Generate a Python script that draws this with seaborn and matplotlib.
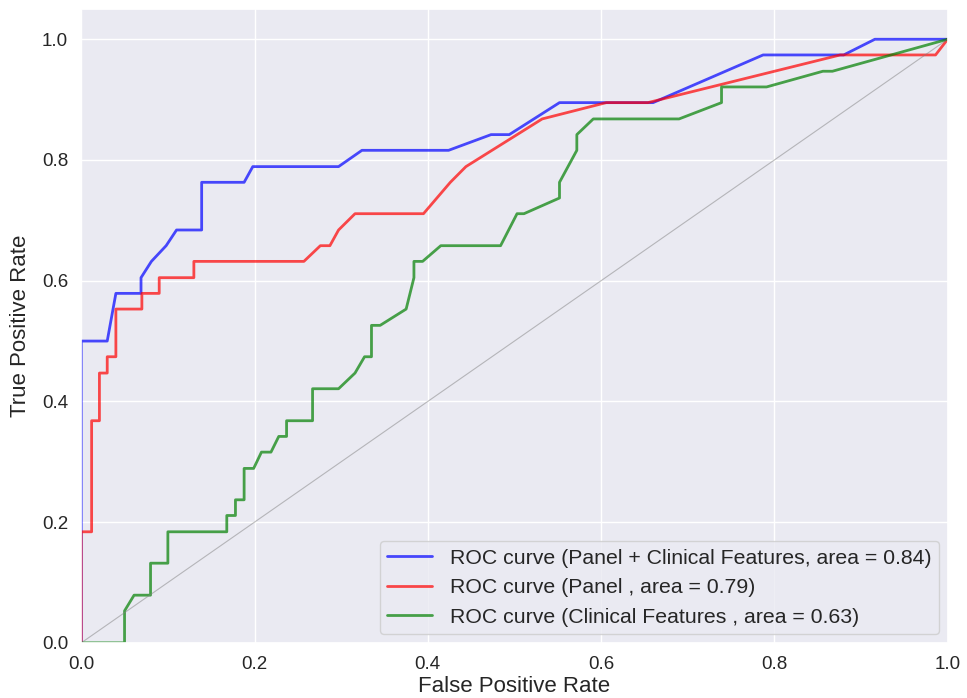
import matplotlib
matplotlib.use("Agg")
import matplotlib.pyplot as plt
import seaborn as sns
import pandas as pd

# ---- data ----
fpr_combined = [0, 0, 0.03, 0.04, 0.069, 0.069, 0.081, 0.098, 0.11, 0.139, 0.139, 0.188, 0.198,
                0.297, 0.324, 0.424, 0.473, 0.494, 0.552, 0.66, 0.787, 0.88, 0.916, 1.0]
tpr_combined = [0, 0.5, 0.5, 0.579, 0.579, 0.605, 0.632, 0.658, 0.684, 0.684, 0.763, 0.763, 0.789,
                0.789, 0.816, 0.816, 0.842, 0.842, 0.895, 0.895, 0.974, 0.974, 1.0, 1.0]

fpr_panel = [0, 0, 0.012, 0.012, 0.021, 0.021, 0.03, 0.03, 0.04, 0.04, 0.07, 0.07, 0.09, 0.09,
             0.13, 0.13, 0.257, 0.276, 0.287, 0.297, 0.316, 0.395, 0.426, 0.444, 0.532, 0.606,
             0.654, 0.876, 0.986, 1.0]
tpr_panel = [0, 0.184, 0.184, 0.368, 0.368, 0.447, 0.447, 0.474, 0.474, 0.553, 0.553, 0.579,
             0.579, 0.605, 0.605, 0.632, 0.632, 0.658, 0.658, 0.684, 0.711, 0.711, 0.763, 0.789,
             0.868, 0.895, 0.895, 0.974, 0.974, 1.0]

fpr_clinical = [0, 0.05, 0.05, 0.061, 0.08, 0.08, 0.1, 0.1, 0.168, 0.168, 0.178, 0.178, 0.188,
                0.188, 0.199, 0.208, 0.219, 0.228, 0.237, 0.237, 0.267, 0.267, 0.297, 0.316,
                0.327, 0.335, 0.335, 0.345, 0.375, 0.384, 0.384, 0.394, 0.415, 0.484, 0.503,
                0.511, 0.552, 0.552, 0.572, 0.572, 0.591, 0.69, 0.739, 0.739, 0.791, 0.856,
                0.867, 1.0]
tpr_clinical = [0, 0, 0.053, 0.079, 0.079, 0.132, 0.132, 0.184, 0.184, 0.211, 0.211, 0.237,
                0.237, 0.289, 0.289, 0.316, 0.316, 0.342, 0.342, 0.368, 0.368, 0.421, 0.421,
                0.447, 0.474, 0.474, 0.526, 0.526, 0.553, 0.605, 0.632, 0.632, 0.658, 0.658,
                0.711, 0.711, 0.737, 0.763, 0.816, 0.842, 0.868, 0.868, 0.895, 0.921, 0.921,
                0.947, 0.947, 1.0]

labels = ["ROC curve (Panel + Clinical Features, area = 0.84)",
          "ROC curve (Panel , area = 0.79)",
          "ROC curve (Clinical Features , area = 0.63)"]
colors = ["blue", "red", "green"]
chance = [0.0, 1.0]

sns.set_theme(style="darkgrid")
plt.rcParams["font.family"] = ["Liberation Sans", "DejaVu Sans"]

fig = plt.figure(figsize=(9.67, 6.98), dpi=100)
ax = fig.add_axes([0.084, 0.079, 0.896, 0.908])

series = [(fpr_combined, tpr_combined), (fpr_panel, tpr_panel), (fpr_clinical, tpr_clinical)]
for (fx, ty), lab, col in zip(series, labels, colors):
    df = pd.DataFrame({"fpr": fx, "tpr": ty})
    sns.lineplot(data=df, x="fpr", y="tpr", sort=False, estimator=None, ax=ax,
                 color=col, alpha=0.7, linewidth=2, label=lab)

sns.lineplot(x=chance, y=chance, ax=ax, color="gray", alpha=0.5, linewidth=0.8,
             sort=False, estimator=None, legend=False)

ax.set_xlim(0.0, 1.0)
ax.set_ylim(0.0, 1.05)
ax.set_xlabel("False Positive Rate", fontsize=16, labelpad=2)
ax.set_ylabel("True Positive Rate", fontsize=16, labelpad=8)
ax.tick_params(labelsize=13.5)
leg = ax.legend(loc="lower right", fontsize=15.3, frameon=True, borderaxespad=0.4,
                borderpad=0.35, handlelength=2.1, handletextpad=0.85)

fig.savefig("out.png", dpi=100)
